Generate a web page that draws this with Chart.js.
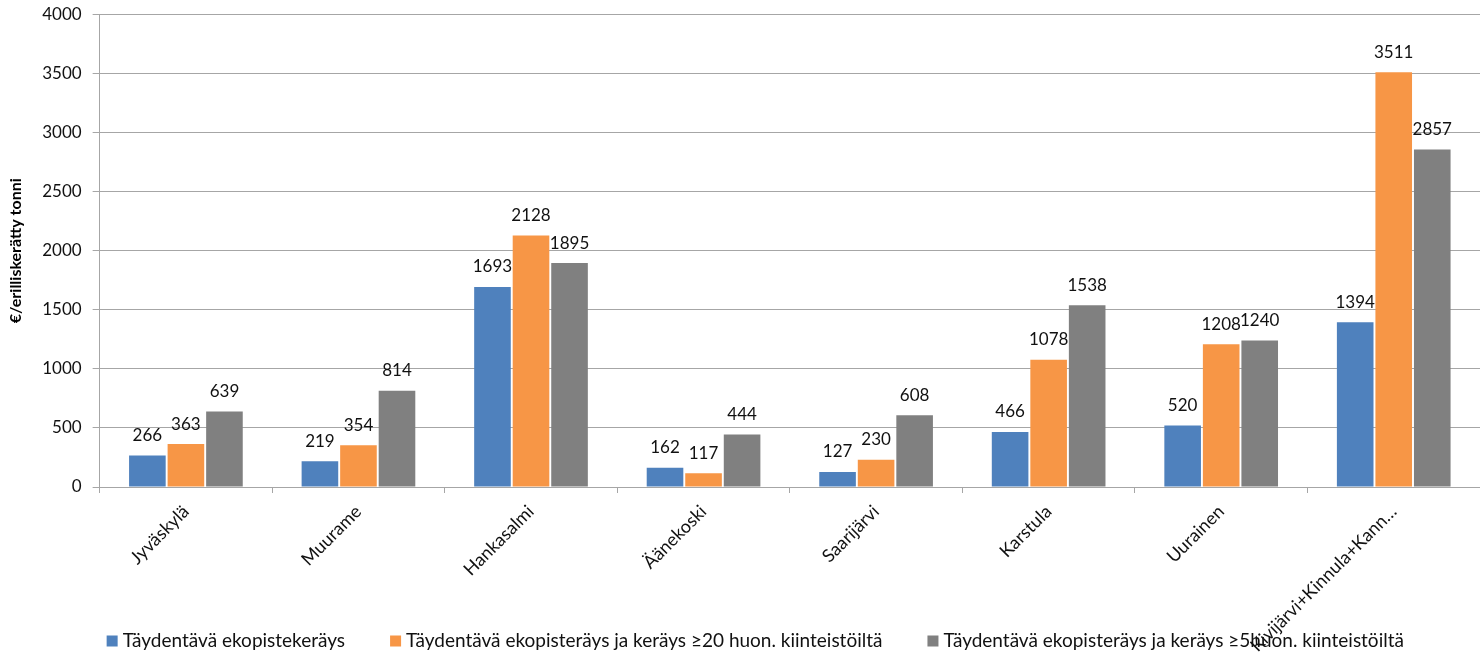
<!DOCTYPE html>
<html>
<head>
<meta charset="utf-8">
<script src="https://cdn.jsdelivr.net/npm/chart.js@4/dist/chart.umd.min.js"></script>
<style>
  html, body { margin: 0; padding: 0; background: #fff; }
  #wrap { width: 1480px; height: 653px; position: relative; }
</style>
</head>
<body>
<div id="wrap"><canvas id="c"></canvas></div>
<script>
// Municipalities
const categories = ['Jyväskylä', 'Muurame', 'Hankasalmi', 'Äänekoski', 'Saarijärvi', 'Karstula', 'Uurainen', 'Kivijärvi+Kinnula+Kann…'];

// Cost per separately collected tonne (€) for each collection scenario
const ekopiste = [266, 219, 1693, 162, 127, 466, 520, 1394];
const keräys20 = [363, 354, 2128, 117, 230, 1078, 1208, 3511];
const keräys5 = [639, 814, 1895, 444, 608, 1538, 1240, 2857];

const seriesNames = [
  'Täydentävä ekopistekeräys',
  'Täydentävä ekopisteräys ja keräys ≥20 huon. kiinteistöiltä',
  'Täydentävä ekopisteräys ja keräys ≥5huon. kiinteistöiltä'
];

const yTicks = [0, 500, 1000, 1500, 2000, 2500, 3000, 3500, 4000];

const FONT = 'Lato, "Open Sans", sans-serif';

// Value labels drawn above each bar
const valueLabels = {
  id: 'valueLabels',
  afterDatasetsDraw(chart) {
    const ctx = chart.ctx;
    ctx.save();
    ctx.font = '17px ' + FONT;
    ctx.fillStyle = '#111';
    ctx.textAlign = 'center';
    ctx.textBaseline = 'middle';
    chart.data.datasets.forEach((ds, i) => {
      chart.getDatasetMeta(i).data.forEach((bar, j) => {
        ctx.fillText(String(ds.data[j]), bar.x, bar.y - 20);
      });
    });
    ctx.restore();
  }
};

// Legend row along the bottom edge, spaced wider than the built-in legend allows
const bottomLegend = {
  id: 'bottomLegend',
  afterDraw(chart) {
    const ctx = chart.ctx;
    const box = 11, gapText = 5, gapItem = 45;
    ctx.save();
    ctx.font = '19px ' + FONT;
    ctx.textBaseline = 'middle';
    ctx.textAlign = 'left';
    const y = chart.height - 12;
    let x = chart.chartArea.left + 7;
    chart.data.datasets.forEach(ds => {
      ctx.fillStyle = ds.backgroundColor;
      ctx.fillRect(x, y - box / 2, box, box);
      x += box + gapText;
      ctx.fillStyle = '#111';
      ctx.fillText(ds.label, x, y);
      x += ctx.measureText(ds.label).width + gapItem;
    });
    ctx.restore();
  }
};

new Chart(document.getElementById('c'), {
  type: 'bar',
  data: {
    labels: categories,
    datasets: [
      { label: seriesNames[0], data: ekopiste, backgroundColor: '#4f81bd' },
      { label: seriesNames[1], data: keräys20, backgroundColor: '#f79646' },
      { label: seriesNames[2], data: keräys5, backgroundColor: '#808080' }
    ]
  },
  options: {
    responsive: true,
    maintainAspectRatio: false,
    animation: false,
    layout: { padding: { top: 0, right: 0, left: 6, bottom: 0 } },
    datasets: {
      bar: { categoryPercentage: 0.67, barPercentage: 0.95, borderWidth: 0 }
    },
    plugins: {
      legend: { display: false },
      tooltip: { enabled: false }
    },
    scales: {
      x: {
        grid: { offset: true, drawOnChartArea: false, tickLength: 6, color: '#a6a6a6' },
        border: { color: '#a6a6a6' },
        ticks: {
          font: { family: FONT, size: 18 },
          color: '#111',
          minRotation: 45,
          maxRotation: 45,
          autoSkip: false,
          padding: 8
        },
        afterFit(scale) { scale.height = 166; }
      },
      y: {
        min: 0,
        max: 4000,
        afterBuildTicks(scale) { scale.ticks = yTicks.map(v => ({ value: v })); },
        grid: { color: '#a6a6a6', tickLength: 7 },
        border: { color: '#a6a6a6' },
        ticks: {
          font: { family: FONT, size: 17, lineHeight: 0.4 },
          color: '#111',
          padding: 11,
          callback: v => String(v)
        },
        title: {
          display: true,
          text: '€/erilliskerätty tonni',
          font: { family: FONT, size: 16, weight: 'bold' },
          color: '#000',
          padding: { top: 0, bottom: 6 }
        }
      }
    }
  },
  plugins: [valueLabels, bottomLegend]
});
</script>
</body>
</html>
